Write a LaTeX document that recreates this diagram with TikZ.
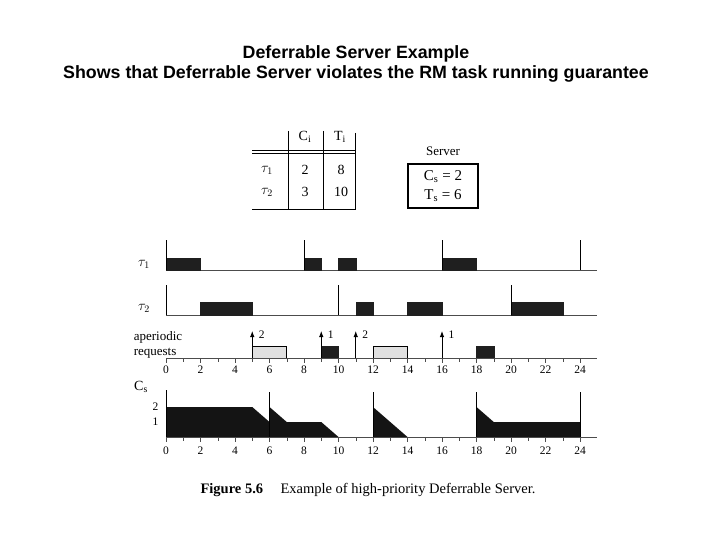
\documentclass[tikz,border=0pt]{standalone}
\usepackage{fontspec}
\setmainfont{Liberation Serif}
\newfontfamily\headfont{Liberation Sans}
\usetikzlibrary{arrows.meta,positioning}

\begin{document}
\begin{tikzpicture}[
    x=1pt,y=-1pt,
    job/.style={fill=black!88,draw=black!88},
    aper/.style={fill=black!12,draw=black,line width=0.9pt},
    axisline/.style={draw=black!70,line width=0.9pt},
    release/.style={draw=black,line width=0.9pt},
    req/.style={-{Latex[length=6pt,width=4.5pt]},line width=0.9pt},
    lbl/.style={font=\fontsize{13}{15}\selectfont},
    tbl/.style={font=\fontsize{14}{16}\selectfont},
    num/.style={font=\fontsize{11.5}{13}\selectfont}
]
    \useasboundingbox (0,0) rectangle (720,540);

    \node[font=\headfont\bfseries\fontsize{17.8}{20}\selectfont,align=center] (title) at (356,64)
        {Deferrable Server Example\\Shows that Deferrable Server violates the RM task running guarantee};

    % task table
    \node[tbl] (hc) at (305,137) {C$_{\mathrm{i}}$};
    \node[tbl] (ht) at (340,137) {T$_{\mathrm{i}}$};
    \node[tbl] (r1) at (267,170) {$\tau_1$};
    \node[tbl] (r2) at (267,192) {$\tau_2$};
    \node[tbl] (c1) at (305,170) {2};
    \node[tbl] (t1) at (341,170) {8};
    \node[tbl] (c2) at (305,192) {3};
    \node[tbl] (t2) at (341,192) {10};
    \draw (287.7,131) -- (287.7,210);
    \draw (322.7,131) -- (322.7,210);
    \draw (355,133) -- (355,210);
    \draw (252,150.5) -- (355,150.5);
    \draw (252,153) -- (355,153);
    \draw (252,209.5) -- (355,209.5);

    % server parameters
    \node[lbl] (srvlabel) at (443,151) {Server};
    \node[draw,line width=1.1pt,minimum width=70,minimum height=44,align=center,
          font=\fontsize{15}{17}\selectfont] (srv) at (443,186)
        {C$_{\mathrm{s}}$ = 2\\[2pt]T$_{\mathrm{s}}$ = 6};

    % row labels
    \node[tbl] (tau1) at (144,264) {$\tau_1$};
    \node[tbl] (tau2) at (144,308) {$\tau_2$};
    \node[lbl,align=left] (apreq) at (158,345) {aperiodic\\requests};
    \node[tbl] (cs) at (141,387) {C$_{\mathrm{s}}$};

    \begin{scope}[shift={(166,0)},x=17.25pt]
        % tau 1
        \draw[axisline] (0,270) -- (25,270);
        \foreach \a/\b in {0/2,8/9,10/11,16/18}
            \filldraw[job] (\a,258) rectangle (\b,270);
        \foreach \r in {0,8,16,24}
            \draw[release] (\r,270) -- (\r,240);

        % tau 2
        \draw[axisline] (0,315) -- (25,315);
        \foreach \a/\b in {2/5,11/12,14/16,20/23}
            \filldraw[job] (\a,302) rectangle (\b,315);
        \foreach \r in {0,10,20}
            \draw[release] (\r,315) -- (\r,285);

        % aperiodic requests
        \filldraw[aper] (5,346) rectangle (7,358);
        \filldraw[aper] (12,346) rectangle (14,358);
        \filldraw[job] (9,346) rectangle (10,358);
        \filldraw[job] (18,346) rectangle (19,358);
        \draw[axisline] (0,358) -- (25,358);
        \foreach \t in {0,...,24}
            \draw[black!70] (\t,358) -- (\t,361.5);
        \foreach \t in {0,2,...,24}
            \draw[black!70,line width=0.9pt] (\t,358) -- (\t,363);
        \foreach \t in {0,2,...,24}
            \node[num] (ax\t) at (\t,370) {\t};
        \foreach \t/\n in {5/2,9/1,11/2,16/1} {
            \coordinate (rq\t) at (\t,331);
            \draw[req] (\t,358) -- (rq\t);
            \node[num,right=3pt of rq\t,yshift=-4pt] (rn\t) {\n};
        }

        % server capacity
        \fill[black!92] (0,437) -- (0,407) -- (5,407) -- (6,422) -- (6,407) -- (7,422)
            -- (9,422) -- (10,437) -- cycle;
        \fill[black!92] (12,437) -- (12,407) -- (14,437) -- cycle;
        \fill[black!92] (18,437) -- (18,407) -- (19,422) -- (24,422) -- (24,437) -- cycle;
        \draw[axisline] (0,437) -- (25,437);
        \draw[release] (0,437) -- (0,390);
        \foreach \r in {6,12,18,24}
            \draw[release] (\r,437) -- (\r,392);
        \foreach \t in {0,...,24}
            \draw[black!70] (\t,437) -- (\t,440.5);
        \foreach \t in {0,2,...,24}
            \draw[black!70,line width=0.9pt] (\t,437) -- (\t,442);
        \foreach \t in {0,2,...,24}
            \node[num] (bx\t) at (\t,451) {\t};
        \node[num,left=4pt] (lv2) at (0,407) {2};
        \node[num,left=4pt] (lv1) at (0,422) {1};
    \end{scope}

    \node[font=\fontsize{14.5}{16}\selectfont] (caption) at (368,490)
        {\textbf{Figure 5.6}\hspace{1.2em}Example of high-priority Deferrable Server.};
\end{tikzpicture}
\end{document}
